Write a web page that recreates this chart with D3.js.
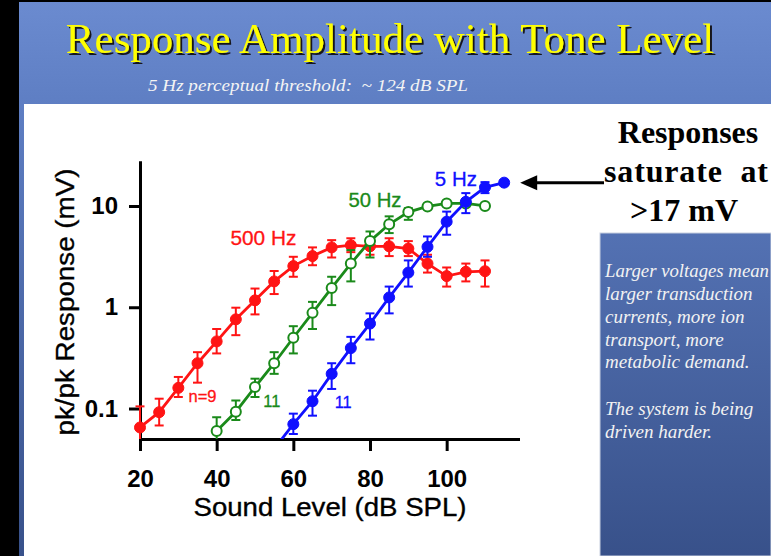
<!DOCTYPE html>
<meta charset="utf-8">
<style>
body { margin: 0; background: #000; }
svg { display: block; }
.axis path, .axis line { stroke: #000; stroke-width: 3; fill: none; }
.axis text { font: bold 24px "Liberation Sans", Arial, sans-serif; fill: #000; }
.lbl { font-family: "Liberation Sans", Arial, sans-serif; }
.serif { font-family: "Liberation Serif", "Times New Roman", serif; }
</style>
<svg id="chart" width="771" height="556"></svg>
<script src="https://d3js.org/d3.v7.min.js"></script>
<script>

// 500 Hz (n=9)
var levels500 = [20, 25, 30, 35, 40, 45, 50, 55, 60, 65, 70, 75, 80, 85, 90, 95, 100, 105, 110];
var resp500 = [0.065, 0.092, 0.16, 0.28, 0.46, 0.76, 1.17, 1.8, 2.55, 3.2, 3.9, 4.1, 4.0, 4.0, 3.8, 2.7, 2.03, 2.24, 2.27];
var hi500   = [0.105, 0.125, 0.205, 0.36, 0.61, 0.99, 1.53, 2.28, 3.15, 3.9, 4.6, 4.8, 4.8, 4.8, 4.5, 3.3, 2.47, 2.7, 2.9];
var lo500   = [0.04, 0.068, 0.13, 0.18, 0.35, 0.53, 0.85, 1.35, 2.0, 2.6, 3.1, 3.5, 3.3, 3.2, 3.2, 2.2, 1.6, 1.8, 1.6];

// 50 Hz (n=11)
var levels50 = [40, 45, 50, 55, 60, 65, 70, 75, 80, 85, 90, 95, 100, 105, 110];
var resp50 = [0.06, 0.093, 0.163, 0.28, 0.5, 0.88, 1.55, 2.7, 4.5, 6.6, 8.7, 9.9, 10.6, 10.6, 10.0];
var hi50   = [0.082, 0.12, 0.197, 0.36, 0.65, 1.13, 2.0, 3.67, 5.6, 7.9, 9.5, 10.3, 11.0, 11.0, 10.4];
var lo50   = [0.045, 0.077, 0.13, 0.22, 0.35, 0.61, 1.05, 1.8, 3.1, 5.4, 7.3, 9.4, 10.2, 10.2, 9.6];

// 5 Hz (n=11)
var levels5 = [55, 60, 65, 70, 75, 80, 85, 90, 95, 100, 105, 110, 115];
var resp5 = [0.04, 0.07, 0.118, 0.22, 0.395, 0.69, 1.25, 2.2, 3.95, 7.0, 11.0, 15.3, 17.0];
var hi5   = [0.04, 0.089, 0.15, 0.28, 0.51, 0.87, 1.6, 2.9, 5.0, 8.8, 13.4, 17.2, 18.0];
var lo5   = [0.04, 0.056, 0.085, 0.156, 0.28, 0.48, 0.87, 1.6, 3.15, 5.2, 8.5, 13.4, 16.0];

var xTicks = [20, 40, 60, 80, 100];
var yTicks = [0.1, 1, 10];

var title = "Response Amplitude with Tone Level";
var subtitle = "5 Hz perceptual threshold:  ~ 124 dB SPL";
var sideHead = ["Responses", "saturate  at", ">17 mV"];
var sideNotes = ["Larger voltages mean", "larger transduction", "currents, more ion", "transport, more", "metabolic demand.", "", "The system is being", "driven harder."];

var svg = d3.select("#chart");
var defs = svg.append("defs");

var bg = defs.append("linearGradient").attr("id", "bg")
    .attr("gradientUnits", "userSpaceOnUse")
    .attr("x1", 0).attr("y1", 0).attr("x2", 0).attr("y2", 556);
bg.append("stop").attr("offset", 0).attr("stop-color", "#6b8bd0");
bg.append("stop").attr("offset", 0.19).attr("stop-color", "#5e7ec3");
bg.append("stop").attr("offset", 1).attr("stop-color", "#38518a");

defs.append("filter").attr("id", "shadow").attr("x", -0.05).attr("y", -0.2).attr("width", 1.1).attr("height", 1.5)
  .append("feDropShadow").attr("dx", 2).attr("dy", 2).attr("stdDeviation", 0.4)
    .attr("flood-color", "#15151a").attr("flood-opacity", 1);

defs.append("clipPath").attr("id", "plotclip")
  .append("rect").attr("x", 100).attr("y", 100).attr("width", 460).attr("height", 339);

// slide background
svg.append("rect").attr("width", 771).attr("height", 556).attr("fill", "#000");
svg.append("rect").attr("x", 19).attr("y", 2).attr("width", 752).attr("height", 554).attr("fill", "url(#bg)");
svg.append("rect").attr("x", 24).attr("y", 104).attr("width", 747).attr("height", 452).attr("fill", "#fff");
svg.append("rect").attr("x", 600).attr("y", 233).attr("width", 171).attr("height", 323)
    .attr("fill", "url(#bg)").attr("stroke", "#c8d0e0").attr("stroke-width", 1);

// title
svg.append("text").attr("class", "serif").attr("x", 390).attr("y", 53)
    .attr("text-anchor", "middle").attr("font-size", 43).attr("fill", "#ffff00")
    .attr("filter", "url(#shadow)")
    .text(title);
svg.append("text").attr("class", "serif").attr("x", 148).attr("y", 91)
    .attr("font-size", 17).attr("font-style", "italic").attr("fill", "#f4f4f4")
    .attr("textLength", 320).attr("lengthAdjust", "spacingAndGlyphs")
    .style("white-space", "pre")
    .text(subtitle);

// scales
var x = d3.scaleLinear().domain([20, 119]).range([140, 519.5]);
var y = d3.scaleLog().domain([0.05, 28]).range([439, 160.7]);

svg.append("g").attr("class", "axis")
    .attr("transform", "translate(0,439)")
    .call(d3.axisBottom(x).tickValues(xTicks).tickSize(12).tickSizeOuter(0).tickPadding(19));

svg.append("g").attr("class", "axis")
    .attr("transform", "translate(140,0)")
    .call(d3.axisLeft(y).tickValues(yTicks).tickFormat(d3.format("")).tickSize(11).tickSizeOuter(0).tickPadding(11));

svg.append("text").attr("class", "lbl").attr("x", 330).attr("y", 516)
    .attr("text-anchor", "middle").attr("font-size", 25)
    .attr("stroke", "#000").attr("stroke-width", 0.35)
    .attr("textLength", 273).attr("lengthAdjust", "spacingAndGlyphs")
    .text("Sound Level (dB SPL)");
svg.append("text").attr("class", "lbl")
    .attr("transform", "translate(74,302) rotate(-90)")
    .attr("text-anchor", "middle").attr("font-size", 25)
    .attr("stroke", "#000").attr("stroke-width", 0.35)
    .attr("textLength", 267).attr("lengthAdjust", "spacingAndGlyphs")
    .text("pk/pk Response (mV)");

var series = [
  { color: "#ff1414", open: false, levels: levels500, resp: resp500, hi: hi500, lo: lo500 },
  { color: "#1a8a1a", open: true, levels: levels50, resp: resp50, hi: hi50, lo: lo50 },
  { color: "#1010ff", open: false, levels: levels5, resp: resp5, hi: hi5, lo: lo5 }
];

var line = d3.line().x(function(d) { return x(d.lev); }).y(function(d) { return y(d.v); });
var plot = svg.append("g").attr("clip-path", "url(#plotclip)");

series.forEach(function(s) {
  var pts = s.levels.map(function(l, i) { return { lev: l, v: s.resp[i], hi: s.hi[i], lo: s.lo[i] }; });
  var g = plot.append("g");
  g.append("path").datum(pts).attr("d", line)
      .attr("fill", "none").attr("stroke", s.color).attr("stroke-width", 2.8);
  var eb = g.selectAll(".eb").data(pts).enter().append("g").attr("stroke", s.color).attr("stroke-width", 2);
  eb.append("line")
      .attr("x1", function(d) { return x(d.lev); }).attr("x2", function(d) { return x(d.lev); })
      .attr("y1", function(d) { return y(d.hi); }).attr("y2", function(d) { return y(d.lo); });
  eb.append("line")
      .attr("x1", function(d) { return x(d.lev) - 4.5; }).attr("x2", function(d) { return x(d.lev) + 4.5; })
      .attr("y1", function(d) { return y(d.hi); }).attr("y2", function(d) { return y(d.hi); });
  eb.append("line")
      .attr("x1", function(d) { return x(d.lev) - 4.5; }).attr("x2", function(d) { return x(d.lev) + 4.5; })
      .attr("y1", function(d) { return y(d.lo); }).attr("y2", function(d) { return y(d.lo); });
  g.selectAll("circle").data(pts).enter().append("circle")
      .attr("cx", function(d) { return x(d.lev); })
      .attr("cy", function(d) { return y(d.v); })
      .attr("r", s.open ? 5 : 5.5)
      .attr("fill", s.open ? "#fff" : s.color)
      .attr("stroke", s.color).attr("stroke-width", s.open ? 2 : 1);
});

// series labels
function seriesLabel(txt, lev, v, color, size, len) {
  var t = svg.append("text").attr("class", "lbl")
      .attr("x", x(lev)).attr("y", y(v))
      .attr("text-anchor", "middle").attr("font-size", size).attr("fill", color)
      .attr("stroke", color).attr("stroke-width", 0.3)
      .text(txt);
  if (len) t.attr("textLength", len).attr("lengthAdjust", "spacingAndGlyphs");
}
seriesLabel("500 Hz", 52.2, 4.11, series[0].color, 20, 66);
seriesLabel("50 Hz", 81.3, 9.83, series[1].color, 20, 53);
seriesLabel("5 Hz", 102.4, 15.7, series[2].color, 20, 42);
seriesLabel("n=9", 36.3, 0.117, series[0].color, 16, 28);
seriesLabel("11", 54.4, 0.104, series[1].color, 16, 17);
seriesLabel("11", 73.0, 0.101, series[2].color, 16, 17);

// arrow to saturation point
var ax = x(115) + 16, ay = y(17);
svg.append("line").attr("x1", ax + 14).attr("x2", 604).attr("y1", ay).attr("y2", ay)
    .attr("stroke", "#000").attr("stroke-width", 3);
svg.append("path")
    .attr("d", "M" + ax + "," + ay + "L" + (ax + 17) + "," + (ay - 7.5) + "L" + (ax + 17) + "," + (ay + 7.5) + "Z")
    .attr("fill", "#000");

// side notes
svg.append("text").attr("class", "serif").attr("x", 688).attr("y", 143)
    .attr("text-anchor", "middle").attr("font-size", 32).attr("font-weight", "bold").text(sideHead[0]);
svg.append("text").attr("class", "serif").attr("x", 604).attr("y", 182)
    .attr("font-size", 32).attr("font-weight", "bold").style("white-space", "pre")
    .attr("textLength", 164).attr("lengthAdjust", "spacing").text(sideHead[1]);
svg.append("text").attr("class", "serif").attr("x", 684).attr("y", 221)
    .attr("text-anchor", "middle").attr("font-size", 32).attr("font-weight", "bold").text(sideHead[2]);

var noteY = [277, 300, 323, 346, 368, 392, 415, 438];
svg.append("g").selectAll("text").data(sideNotes).enter().append("text")
    .attr("class", "serif").attr("x", 605)
    .attr("y", function(d, i) { return noteY[i]; })
    .attr("font-size", 19).attr("font-style", "italic").attr("fill", "#f2f2f2")
    .each(function(d, i) {
      if (i === 0) d3.select(this).attr("textLength", 164).attr("lengthAdjust", "spacingAndGlyphs");
    })
    .text(function(d) { return d; });

</script>
